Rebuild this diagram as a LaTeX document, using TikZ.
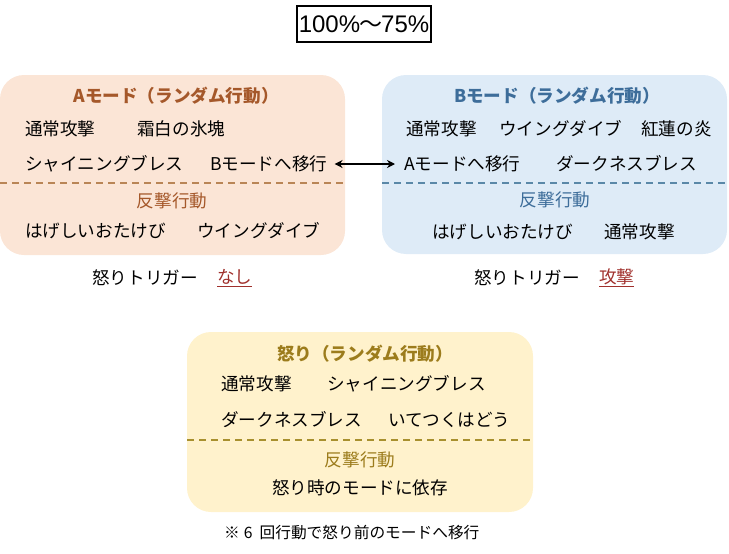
\documentclass[tikz,border=0pt]{standalone}
\usepackage{fontspec}
\setmainfont{Noto Sans CJK JP}
\newfontfamily\latinfont{Liberation Sans}
\usetikzlibrary{arrows.meta}
\definecolor{afill}{HTML}{FBE5D6}
\definecolor{atext}{HTML}{A5582A}
\definecolor{adash}{HTML}{B98556}
\definecolor{bfill}{HTML}{DEEBF7}
\definecolor{btext}{HTML}{3D6D9A}
\definecolor{bdash}{HTML}{5A88A8}
\definecolor{cfill}{HTML}{FFF2CC}
\definecolor{ctext}{HTML}{9C7C1C}
\definecolor{cdash}{HTML}{A8902E}
\definecolor{trig}{HTML}{A0302C}
\tikzset{
  modebox/.style={rounded corners=24pt, draw=none},
  item/.style={anchor=west, inner sep=0pt, font=\fontsize{17.6}{20}\selectfont},
  ctr/.style={anchor=center, inner sep=0pt, font=\fontsize{17.6}{20}\selectfont},
  sep/.style={dashed, dash pattern=on 7pt off 5pt, line width=1.4pt},
}
\begin{document}
\begin{tikzpicture}[x=1pt,y=-1pt]
\useasboundingbox (0,0) rectangle (729,554);
% title
\node[draw=black, line width=2.5pt, minimum width=134pt, minimum height=36pt, inner sep=0pt] (title) at (364,24)
  {\fontsize{24}{26}\selectfont\latinfont 100\%\hspace{-1pt}{\fontsize{23}{26}\selectfont\rmfamily 〜}\hspace{-1pt}75\%};
% A box
\fill[afill, modebox] (0,75) rectangle (345,255);
\draw[adash, sep] (0,183) -- (345,183);
\node[ctr, text=atext, font=\fontsize{17.6}{20}\selectfont\bfseries] (atitle) at (176,96) {Aモード（ランダム行動）};
\node[item] (a1) at (25,129) {通常攻撃};
\node[item] (a2) at (137,129) {霜白の氷塊};
\node[item] (a3) at (25,164) {シャイニングブレス};
\node[item] (a4) at (210,164) {Bモードへ移行};
\node[ctr, text=atext] (acnt) at (172,201) {反撃行動};
\node[item] (a5) at (25,231) {はげしいおたけび};
\node[item] (a6) at (197,231) {ウイングダイブ};
\node[item] (atr) at (92,278) {怒りトリガー};
\node[item, text=trig] (atrv) at (217,278) {\underline{なし}};
% B box
\fill[bfill, modebox] (382,75) rectangle (727,254);
\draw[bdash, sep] (382,183) -- (727,183);
\node[ctr, text=btext, font=\fontsize{17.6}{20}\selectfont\bfseries] (btitle) at (557,96) {Bモード（ランダム行動）};
\node[item] (b1) at (406,129) {通常攻撃};
\node[item] (b2) at (499,129) {ウイングダイブ};
\node[item] (b3) at (641,129) {紅蓮の炎};
\node[item] (b4) at (404,164) {Aモードへ移行};
\node[item] (b5) at (556,164) {ダークネスブレス};
\node[ctr, text=btext] (bcnt) at (555,200) {反撃行動};
\node[item] (b6) at (432,232) {はげしいおたけび};
\node[item] (b7) at (604,232) {通常攻撃};
\node[item] (btr) at (474,278) {怒りトリガー};
\node[item, text=trig] (btrv) at (599,278) {\underline{攻撃}};
% arrow
\draw[{Stealth[length=8pt,width=8pt]}-{Stealth[length=8pt,width=8pt]}, line width=1.6pt] ([xshift=7pt]a4.east) -- ([xshift=-9pt]b4.west);
% anger box
\fill[cfill, modebox] (187,332) rectangle (533,512);
\draw[cdash, sep] (187,440) -- (533,440);
\node[ctr, text=ctext, font=\fontsize{17.6}{20}\selectfont\bfseries] (ctitle) at (365,354) {怒り（ランダム行動）};
\node[item] (c1) at (221,384) {通常攻撃};
\node[item] (c2) at (327,384) {シャイニングブレス};
\node[item] (c3) at (221,420) {ダークネスブレス};
\node[item] (c4) at (388,420) {いてつくはどう};
\node[ctr, text=ctext] (ccnt) at (360,460) {反撃行動};
\node[ctr] (c5) at (360,488) {怒り時のモードに依存};
\node[item, font=\fontsize{15.7}{18}\selectfont] (note) at (224,533) {※\hspace{4pt}6\hspace{7pt}回行動で怒り前のモードへ移行};
\end{tikzpicture}
\end{document}
